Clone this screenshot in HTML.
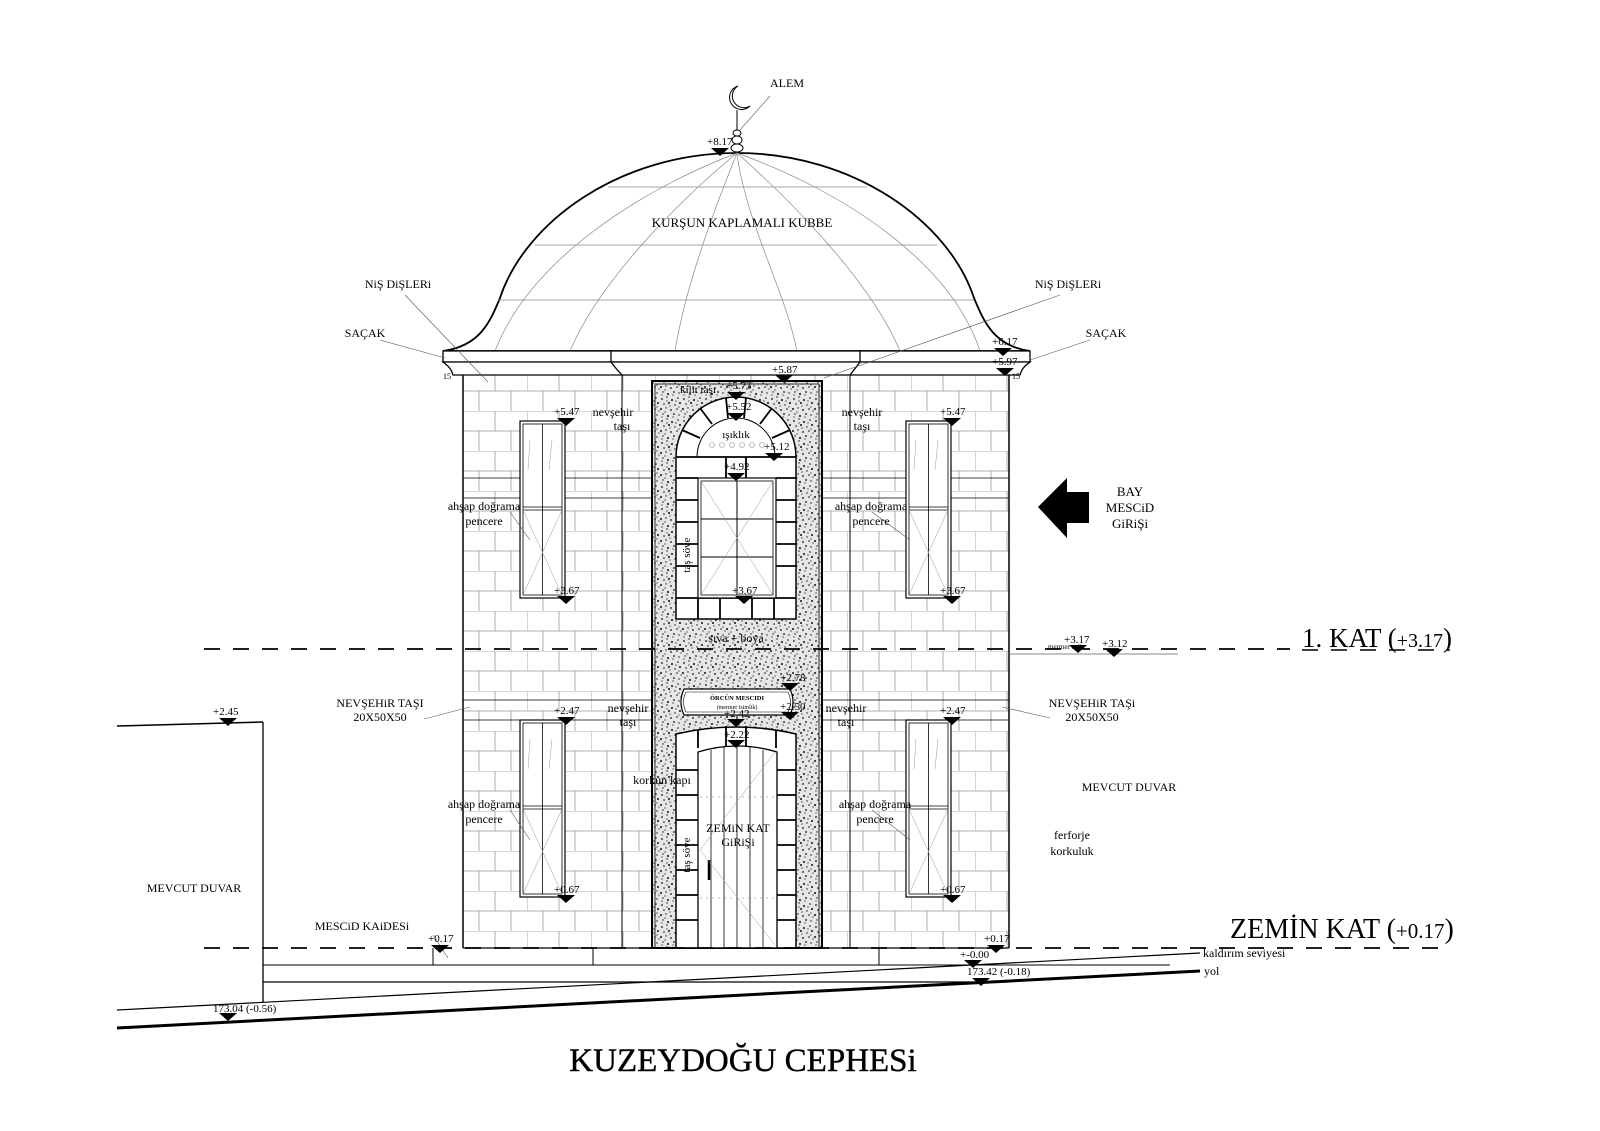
<!DOCTYPE html>
<html><head><meta charset="utf-8"><style>
html,body{margin:0;padding:0;background:#fff}
svg{display:block}
text{font-family:"Liberation Serif",serif;fill:#000}
</style></head><body>
<svg width="1600" height="1131" viewBox="0 0 1600 1131" xmlns="http://www.w3.org/2000/svg">
<defs>
<pattern id="brick" x="463" y="371" width="64" height="40" patternUnits="userSpaceOnUse">
<path d="M0 0H64M0 20H64M0 0V20M32 0V20M16 20V40M48 20V40" stroke="#999" stroke-width="0.8" fill="none"/>
</pattern>
<pattern id="speck" width="22" height="22" patternUnits="userSpaceOnUse">
<rect width="22" height="22" fill="#e6e6e6"/>
<g fill="#111">
<circle cx="2" cy="3" r="0.9"/><circle cx="7" cy="1" r="0.7"/><circle cx="12" cy="4" r="1"/><circle cx="18" cy="2" r="0.8"/>
<circle cx="4" cy="8" r="0.8"/><circle cx="9" cy="7" r="1"/><circle cx="15" cy="9" r="0.7"/><circle cx="20" cy="7" r="1"/>
<circle cx="1" cy="13" r="1"/><circle cx="6" cy="12" r="0.7"/><circle cx="11" cy="14" r="0.9"/><circle cx="17" cy="13" r="0.8"/>
<circle cx="3" cy="18" r="0.7"/><circle cx="8" cy="20" r="1"/><circle cx="14" cy="18" r="0.9"/><circle cx="19" cy="19" r="0.7"/>
<circle cx="10" cy="10" r="0.6"/><circle cx="21" cy="15" r="0.6"/><circle cx="5" cy="16" r="0.6"/><circle cx="16" cy="5" r="0.6"/>
<circle cx="13" cy="21" r="0.6"/><circle cx="7" cy="5" r="0.6"/><circle cx="19" cy="11" r="0.6"/><circle cx="2" cy="21" r="0.6"/>
</g>
</pattern>
<g id="m"><path d="M-9 0H9L0 8Z" fill="#000"/></g>
</defs>

<rect x="463" y="371" width="547" height="577" fill="url(#brick)"/>
<g stroke="#000" stroke-width="1" fill="none">
<line x1="463" y1="375" x2="463" y2="948" stroke-width="1.5"/>
<line x1="1009" y1="375" x2="1009" y2="948" stroke-width="1.5"/>
<line x1="622" y1="371" x2="622" y2="948"/>
<line x1="850" y1="371" x2="850" y2="948"/>
<line x1="463" y1="478" x2="652" y2="478" stroke-width="0.8"/>
<line x1="463" y1="498" x2="652" y2="498" stroke-width="0.8"/>
<line x1="822" y1="478" x2="1009" y2="478" stroke-width="0.8"/>
<line x1="822" y1="498" x2="1009" y2="498" stroke-width="0.8"/>
<line x1="463" y1="700" x2="652" y2="700" stroke-width="0.8"/>
<line x1="463" y1="720" x2="652" y2="720" stroke-width="0.8"/>
<line x1="822" y1="700" x2="1009" y2="700" stroke-width="0.8"/>
<line x1="822" y1="720" x2="1009" y2="720" stroke-width="0.8"/>
</g>

<path d="M443 351 C480 346 490 322 500 298 C525 222 620 153 737 153 C854 153 949 222 974 298 C984 322 994 346 1030 351 Z" fill="#fff" stroke="#000" stroke-width="1.8"/>
<g stroke="#888" stroke-width="0.7" fill="none">
<line x1="608" y1="187" x2="867" y2="187"/>
<line x1="535" y1="245" x2="937" y2="245"/>
<line x1="498" y1="300" x2="974" y2="300"/>
<path d="M737 153 C640 190 530 260 495 351"/>
<path d="M737 153 C680 200 600 280 570 351"/>
<path d="M737 153 C710 220 685 290 675 351"/>
<path d="M737 153 C745 220 785 290 797 351"/>
<path d="M737 153 C790 200 870 280 900 351"/>
<path d="M737 153 C840 190 950 260 980 351"/>
</g>
<line x1="737" y1="110" x2="737" y2="130" stroke="#000"/>
<path d="M738 86 A12 12 0 1 0 750 106 A10 10 0 1 1 738 86Z" fill="#fff" stroke="#000"/>
<ellipse cx="737" cy="133" rx="4" ry="3" fill="#fff" stroke="#000"/>
<ellipse cx="737" cy="140" rx="5" ry="4" fill="#fff" stroke="#000"/>
<ellipse cx="737" cy="148" rx="6" ry="4" fill="#fff" stroke="#000"/>

<g stroke="#000" stroke-width="1.3" fill="#fff">
<path d="M443 351 H1030 V362 H443 Z"/>
<path d="M443 362 H1030 C1025 366 1022 368 1020 375 H453 C451 368 448 366 443 362Z"/>
<line x1="611" y1="351" x2="611" y2="362"/>
<line x1="860" y1="351" x2="860" y2="362"/>
<path d="M611 362 C614 366 617 370 622 375" fill="none"/>
<path d="M860 362 C857 366 854 370 850 375" fill="none"/>
</g>

<rect x="652" y="381" width="170" height="567" fill="url(#speck)" stroke="#000" stroke-width="2"/>
<rect x="655" y="384" width="164" height="564" fill="none" stroke="#000" stroke-width="0.8"/>
<path d="M676 457 A60 60 0 0 1 796 457 V619 H676 Z" fill="#fff" stroke="#000" stroke-width="1.5"/>
<path d="M697 457 A39 39 0 0 1 775 457 Z" fill="#fff" stroke="#000"/>
<g stroke="#000" stroke-width="1.8">
<line x1="682" y1="430" x2="700" y2="438"/><line x1="700" y1="408" x2="712" y2="424"/><line x1="726" y1="398" x2="728" y2="418"/><line x1="746" y1="398" x2="744" y2="418"/><line x1="772" y1="408" x2="760" y2="424"/><line x1="790" y1="430" x2="772" y2="438"/>
<line x1="676" y1="457" x2="796" y2="457"/>
<line x1="726" y1="457" x2="726" y2="478"/><line x1="746" y1="457" x2="746" y2="478"/>
<line x1="676" y1="478" x2="698" y2="478"/><line x1="776" y1="478" x2="796" y2="478"/>
<line x1="676" y1="500" x2="698" y2="500"/><line x1="776" y1="500" x2="796" y2="500"/>
<line x1="676" y1="522" x2="698" y2="522"/><line x1="776" y1="522" x2="796" y2="522"/>
<line x1="676" y1="544" x2="698" y2="544"/><line x1="776" y1="544" x2="796" y2="544"/>
<line x1="676" y1="566" x2="698" y2="566"/><line x1="776" y1="566" x2="796" y2="566"/>
<line x1="676" y1="598" x2="796" y2="598"/>
<line x1="698" y1="598" x2="698" y2="619"/><line x1="720" y1="598" x2="720" y2="619"/><line x1="752" y1="598" x2="752" y2="619"/><line x1="774" y1="598" x2="774" y2="619"/>
</g>
<g fill="none" stroke="#999" stroke-width="0.6">
<circle cx="712" cy="445" r="2.5"/><circle cx="722" cy="445" r="2.5"/><circle cx="732" cy="445" r="2.5"/><circle cx="742" cy="445" r="2.5"/><circle cx="752" cy="445" r="2.5"/><circle cx="762" cy="445" r="2.5"/>
</g>
<rect x="698" y="478" width="78" height="120" fill="#fff" stroke="#000" stroke-width="1.2"/>
<rect x="701" y="481" width="72" height="114" fill="none" stroke="#000" stroke-width="0.8"/>
<g stroke="#000" stroke-width="1"><line x1="737" y1="481" x2="737" y2="595"/><line x1="701" y1="519" x2="773" y2="519"/><line x1="701" y1="557" x2="773" y2="557"/></g>
<g stroke="#999" stroke-width="0.5"><line x1="701" y1="481" x2="773" y2="595"/><line x1="773" y1="481" x2="701" y2="595"/></g>

<path d="M684 689 H790 Q796 702 790 715 H684 Q678 702 684 689Z" fill="#fff" stroke="#000" stroke-width="1.2"/>
<path d="M686 692 H788 Q793 702 788 712 H686 Q681 702 686 692Z" fill="none" stroke="#000" stroke-width="0.6"/>
<text x="737" y="700" font-size="6.5" text-anchor="middle" font-weight="bold">ÖRCÜN MESCIDI</text>
<text x="737" y="709" font-size="6" text-anchor="middle">(mermer isimlik)</text>

<path d="M676 734 Q736 720 796 734 V948 H676 Z" fill="#fff" stroke="#000" stroke-width="1.5"/>
<g stroke="#000" stroke-width="1.8">
<line x1="698" y1="730" x2="698" y2="748"/><line x1="726" y1="726" x2="726" y2="748"/><line x1="746" y1="726" x2="746" y2="748"/><line x1="776" y1="730" x2="776" y2="748"/>
<line x1="676" y1="770" x2="698" y2="770"/><line x1="776" y1="770" x2="796" y2="770"/>
<line x1="676" y1="795" x2="698" y2="795"/><line x1="776" y1="795" x2="796" y2="795"/>
<line x1="676" y1="820" x2="698" y2="820"/><line x1="776" y1="820" x2="796" y2="820"/>
<line x1="676" y1="845" x2="698" y2="845"/><line x1="776" y1="845" x2="796" y2="845"/>
<line x1="676" y1="870" x2="698" y2="870"/><line x1="776" y1="870" x2="796" y2="870"/>
<line x1="676" y1="895" x2="698" y2="895"/><line x1="776" y1="895" x2="796" y2="895"/>
<line x1="676" y1="920" x2="698" y2="920"/><line x1="776" y1="920" x2="796" y2="920"/>
</g>
<path d="M698 752 Q737 740 777 752 V948 H698 Z" fill="#fff" stroke="#000" stroke-width="1.3"/>
<g stroke="#000" stroke-width="0.8"><line x1="711" y1="750" x2="711" y2="948"/><line x1="724" y1="747" x2="724" y2="948"/><line x1="737" y1="746" x2="737" y2="948"/><line x1="750" y1="747" x2="750" y2="948"/><line x1="763" y1="750" x2="763" y2="948"/></g>
<line x1="709" y1="860" x2="709" y2="880" stroke="#000" stroke-width="2.5"/>
<g stroke="#777" stroke-width="0.5" stroke-dasharray="2 4"><line x1="700" y1="797" x2="775" y2="797"/><line x1="700" y1="898" x2="775" y2="898"/></g>
<g stroke="#999" stroke-width="0.5"><line x1="700" y1="850" x2="775" y2="752"/><line x1="700" y1="850" x2="775" y2="945"/></g>

<g id="win">
<rect x="520" y="421" width="45" height="177" fill="#fff" stroke="#000" stroke-width="1.2"/>
<rect x="523" y="424" width="39" height="171" fill="none" stroke="#000" stroke-width="0.8"/>
<g stroke="#000" stroke-width="0.8"><line x1="542.5" y1="424" x2="542.5" y2="595"/><line x1="523" y1="507" x2="562" y2="507"/><line x1="523" y1="510" x2="562" y2="510"/></g>
<g stroke="#999" stroke-width="0.5"><line x1="523" y1="510" x2="562" y2="595"/><line x1="562" y1="510" x2="523" y2="595"/><line x1="530" y1="440" x2="528" y2="470"/><line x1="552" y1="440" x2="549" y2="470"/></g>
</g>
<use href="#win" x="386" y="0"/>
<use href="#win" x="0" y="299"/>
<use href="#win" x="386" y="299"/>

<g stroke="#000" fill="none">
<line x1="117" y1="726" x2="263" y2="722" stroke-width="1.5"/>
<line x1="263" y1="722" x2="263" y2="1002" stroke-width="1.3"/>
<line x1="263" y1="965" x2="1170" y2="965" stroke-width="1"/>
<line x1="263" y1="982" x2="1009" y2="982" stroke-width="1.3"/>
<line x1="433" y1="948" x2="433" y2="965"/>
<line x1="593" y1="948" x2="593" y2="965"/>
<line x1="879" y1="948" x2="879" y2="965"/>
<line x1="463" y1="948" x2="1009" y2="948" stroke-width="1.2"/>
<line x1="117" y1="1010" x2="1200" y2="953" stroke-width="1.2"/>
<line x1="117" y1="1028" x2="1200" y2="971" stroke-width="3"/>
<line x1="1010" y1="654" x2="1178" y2="654" stroke="#888"/>
</g>
<g stroke="#000" stroke-width="1.8" stroke-dasharray="16 13">
<line x1="204" y1="649" x2="1290" y2="649"/>
<line x1="204" y1="948" x2="1450" y2="948"/>
</g>

<g stroke="#555" stroke-width="0.6" fill="none">
<line x1="770" y1="96" x2="740" y2="130"/>
<line x1="405" y1="295" x2="488" y2="382"/>
<line x1="380" y1="340" x2="445" y2="358"/>
<line x1="1060" y1="295" x2="824" y2="378"/>
<line x1="1090" y1="340" x2="1030" y2="360"/>
<line x1="424" y1="719" x2="470" y2="707"/>
<line x1="1050" y1="718" x2="1002" y2="707"/>
<line x1="433" y1="935" x2="448" y2="958"/>
<line x1="510" y1="512" x2="530" y2="540"/>
<line x1="872" y1="512" x2="910" y2="540"/>
<line x1="510" y1="810" x2="530" y2="840"/>
<line x1="872" y1="810" x2="910" y2="840"/>
</g>

<use href="#m" x="720" y="148"/><use href="#m" x="1003" y="348"/><use href="#m" x="1005" y="368"/><use href="#m" x="784" y="375"/>
<use href="#m" x="736" y="392"/><use href="#m" x="736" y="413"/><use href="#m" x="774" y="453"/><use href="#m" x="736" y="473"/>
<use href="#m" x="566" y="418"/><use href="#m" x="952" y="418"/><use href="#m" x="566" y="596"/><use href="#m" x="744" y="596"/><use href="#m" x="952" y="596"/>
<use href="#m" x="1078" y="645"/><use href="#m" x="1114" y="649"/>
<use href="#m" x="790" y="683"/><use href="#m" x="790" y="712"/><use href="#m" x="736" y="719"/><use href="#m" x="736" y="740"/>
<use href="#m" x="566" y="717"/><use href="#m" x="952" y="717"/><use href="#m" x="566" y="895"/><use href="#m" x="952" y="895"/>
<use href="#m" x="440" y="945"/><use href="#m" x="996" y="945"/><use href="#m" x="973" y="960"/><use href="#m" x="981" y="978"/>
<use href="#m" x="228" y="1013"/><use href="#m" x="228" y="718"/>

<g font-size="11">
<text x="707" y="145">+8.17</text><text x="992" y="345">+6.17</text><text x="992" y="365">+5.97</text><text x="772" y="373">+5.87</text>
<text x="726" y="389">+5.73</text><text x="726" y="410">+5.52</text><text x="764" y="450">+5.12</text><text x="724" y="470">+4.92</text>
<text x="554" y="415">+5.47</text><text x="940" y="415">+5.47</text><text x="554" y="594">+3.67</text><text x="732" y="594">+3.67</text><text x="940" y="594">+3.67</text>
<text x="1064" y="643">+3.17</text><text x="1102" y="647">+3.12</text><text x="1048" y="649" font-size="7">mermer eşik</text>
<text x="780" y="681">+2.78</text><text x="780" y="710">+2.50</text><text x="724" y="717">+2.42</text><text x="724" y="738">+2.22</text>
<text x="554" y="714">+2.47</text><text x="940" y="714">+2.47</text><text x="554" y="893">+0.67</text><text x="940" y="893">+0.67</text>
<text x="428" y="942">+0.17</text><text x="984" y="942">+0.17</text><text x="960" y="958">+-0.00</text><text x="967" y="975">173.42 (-0.18)</text>
<text x="213" y="1012">173.04 (-0.56)</text><text x="213" y="715">+2.45</text>
<text x="443" y="379" font-size="8">15</text><text x="1012" y="379" font-size="8">15</text>
</g>

<g font-size="12" text-anchor="middle">
<text x="787" y="87">ALEM</text>
<text x="742" y="227" font-size="13">KURŞUN KAPLAMALI KUBBE</text>
<text x="398" y="288">NiŞ DiŞLERi</text>
<text x="1068" y="288">NiŞ DiŞLERi</text>
<text x="365" y="337">SAÇAK</text>
<text x="1106" y="337">SAÇAK</text>
<text x="613" y="416">nevşehir</text><text x="622" y="430">taşı</text>
<text x="862" y="416">nevşehir</text><text x="862" y="430">taşı</text>
<text x="698" y="393" font-size="11">kilit taşı</text>
<text x="736" y="438" font-size="11">ışıklık</text>
<text x="484" y="510">ahşap doğrama</text><text x="484" y="525">pencere</text>
<text x="871" y="510">ahşap doğrama</text><text x="871" y="525">pencere</text>
<text x="736" y="642">sıva + boya</text>
<text x="628" y="712">nevşehir</text><text x="628" y="726">taşı</text>
<text x="846" y="712">nevşehir</text><text x="846" y="726">taşı</text>
<text x="662" y="784">korkun kapı</text>
<text x="738" y="832">ZEMiN KAT</text><text x="738" y="846">GiRiŞi</text>
<text x="484" y="808">ahşap doğrama</text><text x="484" y="823">pencere</text>
<text x="875" y="808">ahşap doğrama</text><text x="875" y="823">pencere</text>
<text x="380" y="707">NEVŞEHiR TAŞI</text><text x="380" y="721">20X50X50</text>
<text x="1092" y="707">NEVŞEHiR TAŞi</text><text x="1092" y="721">20X50X50</text>
<text x="1129" y="791">MEVCUT DUVAR</text>
<text x="1072" y="839">ferforje</text><text x="1072" y="855">korkuluk</text>
<text x="194" y="892">MEVCUT DUVAR</text>
<text x="362" y="930">MESCiD KAiDESi</text>
<text x="1130" y="496" font-size="13">BAY</text><text x="1130" y="512" font-size="13">MESCiD</text><text x="1130" y="528" font-size="13">GiRiŞi</text>
</g>
<text x="690" y="555" font-size="11" transform="rotate(-90 690 555)" text-anchor="middle">taş söve</text>
<text x="690" y="855" font-size="11" transform="rotate(-90 690 855)" text-anchor="middle">taş söve</text>
<text x="1203" y="957" font-size="12">kaldırım seviyesi</text>
<text x="1204" y="975" font-size="12">yol</text>

<path d="M1038 507 L1067 478 V492 H1089 V523 H1067 V538 Z" fill="#000"/>

<text x="1302" y="647" font-size="27">1. KAT (<tspan font-size="20">+3.17</tspan>)</text>
<line x1="1302" y1="650" x2="1450" y2="650" stroke="#000" stroke-width="1.5" stroke-dasharray="16 13"/>
<text x="1230" y="938" font-size="28">ZEMİN KAT (<tspan font-size="21">+0.17</tspan>)</text>
<text x="743" y="1071" font-size="33" text-anchor="middle" stroke="#000" stroke-width="0.4">KUZEYDOĞU CEPHESi</text>
</svg>
</body></html>
